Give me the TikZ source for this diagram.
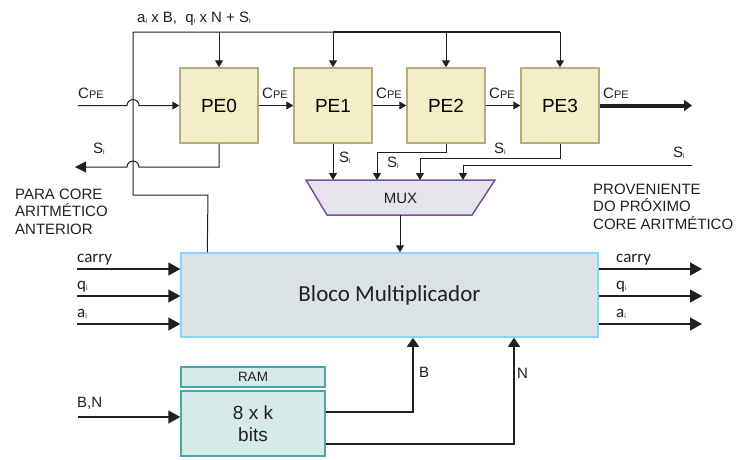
\documentclass[tikz,border=0pt]{standalone}
\usepackage{fontspec}
\setmainfont{Liberation Sans}
\newfontfamily\calfont{Carlito}
\usetikzlibrary{arrows.meta,calc}
\definecolor{pefill}{HTML}{F4EEC8}
\definecolor{peedge}{HTML}{B3AE7E}
\definecolor{muxfill}{HTML}{E5E4EA}
\definecolor{muxedge}{HTML}{7D4FA3}
\definecolor{blocofill}{HTML}{DCE3E7}
\definecolor{blocoedge}{HTML}{8DD3F2}
\definecolor{ramfill}{HTML}{D6EAE7}
\definecolor{ramedge}{HTML}{4CA6AE}
\definecolor{wirecol}{HTML}{231F20}
\newcommand\sbi[1]{\raisebox{-1.5pt}{\fontsize{7}{7}\selectfont #1}}
\newcommand\cpe{C{\fontsize{11}{11}\selectfont PE}}
\newcommand\si{S\sbi{i}}
\tikzset{
  pebox/.style={draw=peedge, fill=pefill, line width=1.5pt, minimum width=78pt, minimum height=75pt, inner sep=0pt, font=\fontsize{19}{19}\selectfont},
  wire/.style={draw=wirecol, line width=1pt},
  arr/.style={wire, -{Triangle[length=7pt,width=8pt]}},
  bigarr/.style={draw=wirecol, line width=1.5pt, -{Triangle[length=12pt,width=13pt]}},
  lbl/.style={font=\fontsize{15}{15}\selectfont, inner sep=0pt, text=wirecol},
  clbl/.style={font=\calfont\fontsize{17}{17}\selectfont, inner sep=0pt, text=wirecol},
}
\begin{document}
\begin{tikzpicture}[x=1pt,y=-1pt]
\useasboundingbox (0,0) rectangle (739,459);
% PE boxes
\node[pebox] (PE0) at (219,105.5) {PE0};
\node[pebox] (PE1) at (333,105.5) {PE1};
\node[pebox] (PE2) at (446,105.5) {PE2};
\node[pebox] (PE3) at (560,105.5) {PE3};
% Bloco
\node[draw=blocoedge, fill=blocofill, line width=1.5pt, minimum width=417pt, minimum height=84pt, inner sep=0pt,
      font=\calfont\fontsize{23}{23}\selectfont, text=wirecol] (bloco) at (389.5,295) {Bloco Multiplicador};
% MUX
\coordinate (mtl) at (306,180); \coordinate (mtr) at (495,180);
\coordinate (mbr) at (472,215); \coordinate (mbl) at (327,215);
\draw[draw=muxedge, fill=muxfill, line width=1.5pt] (mtl) -- (mtr) -- (mbr) -- (mbl) -- cycle;
\node[lbl, font=\fontsize{15}{15}\selectfont] (mux) at (400.5,198) {MUX};
% RAM
\node[draw=ramedge, fill=ramfill, line width=1.5pt, minimum width=144pt, minimum height=20pt, inner sep=0pt,
      font=\fontsize{13.5}{13.5}\selectfont, text=wirecol] (ramh) at (253,377) {RAM};
\node[draw=ramedge, fill=ramfill, line width=1.5pt, minimum width=144pt, minimum height=65pt, inner sep=0pt,
      align=center, font=\fontsize{19}{22}\selectfont, text=wirecol] (ramb) at (253,423.5) {8 x k\\bits};
% top bus
\coordinate (b1) at (208,195); \coordinate (b2) at (133,195);
\coordinate (b3) at (133,32); \coordinate (b4) at (560,32);
\draw[wire] ([xshift=27pt]bloco.north west) -- (b1) -- (b2) -- (b3) -- (b4);
\draw[wire, line width=1.6pt] (PE1.north |- b3) -- (b4);
\foreach \p in {PE0,PE1,PE2,PE3} \draw[arr] (\p.north |- b3) -- (\p.north);
\node[lbl, anchor=base west] (toplbl) at (137,22) {a\sbi{i} x B,\ \ q\sbi{i} x N + S\sbi{i}};
% C_PE chain
\coordinate (cin) at (78,105.5);
\draw[arr] (cin) -- (127,105.5) arc[start angle=180,end angle=360,radius=6] -- (PE0.west);
\draw[arr] (PE0.east) -- (PE1.west);
\draw[arr] (PE1.east) -- (PE2.west);
\draw[arr] (PE2.east) -- (PE3.west);
\coordinate (cout) at (692,105.5);
\draw[draw=wirecol, line width=4pt, -{Triangle[length=8pt,width=11pt]}] (PE3.east) -- (cout);
\node[lbl, anchor=base west] (c0) at (78,98) {\cpe};
\node[lbl, anchor=base west] (c1) at (262,98) {\cpe};
\node[lbl, anchor=base west] (c2) at (376,98) {\cpe};
\node[lbl, anchor=base west] (c3) at (489,98) {\cpe};
\node[lbl, anchor=base west] (c4) at (603,98) {\cpe};
% S_i from PE0 to previous core
\coordinate (sout) at (75,167);
\draw[wire, -{Triangle[length=11pt,width=11pt]}] (PE0.south) |- (139,167) arc[start angle=360,end angle=180,radius=6] -- (sout);
\node[lbl, anchor=base west] (s0) at (93,153) {\si};
% S_i into MUX
\coordinate (m1) at (333,180); \coordinate (m2) at (377,180);
\coordinate (m3) at (420,180); \coordinate (m4) at (463,180);
\draw[arr] (PE1.south) -- (m1);
\draw[arr] (PE2.south) -- (446,152) -| (m2);
\draw[arr] (PE3.south) -- (560,158) -| (m3);
\coordinate (sin) at (692,165);
\draw[arr] (sin) -| (m4);
\node[lbl, anchor=base west] (s1) at (339,162) {\si};
\node[lbl, anchor=base west] (s2) at (387,167) {\si};
\node[lbl, anchor=base west] (s3) at (494,153) {\si};
\node[lbl, anchor=base west] (s4) at (673,157) {\si};
% MUX to bloco
\coordinate (mo) at (400,215);
\draw[arr] (mo) -- (bloco.north -| mo);
% side texts
\node[lbl, anchor=north west, align=left, font=\fontsize{15}{17.5}\selectfont] (para) at (15,188.5) {PARA CORE\\ARITMÉTICO\\ANTERIOR};
\node[lbl, anchor=north west, align=left, font=\fontsize{15}{17.5}\selectfont] (prov) at (593,183.5) {PROVENIENTE\\DO PRÓXIMO\\CORE ARITMÉTICO};
% bloco inputs / outputs
\coordinate (i1) at (77,269); \coordinate (i2) at (77,296); \coordinate (i3) at (77,324);
\coordinate (o1) at (702,269); \coordinate (o2) at (702,296); \coordinate (o3) at (702,324);
\draw[bigarr] (i1) -- (bloco.west |- i1);
\draw[bigarr] (i2) -- (bloco.west |- i2);
\draw[bigarr] (i3) -- (bloco.west |- i3);
\draw[bigarr] (bloco.east |- o1) -- (o1);
\draw[bigarr] (bloco.east |- o2) -- (o2);
\draw[bigarr] (bloco.east |- o3) -- (o3);
\node[clbl, anchor=base west] (l1) at (77,262) {carry};
\node[clbl, anchor=base west] (l2) at (77,289) {q\sbi{i}};
\node[clbl, anchor=base west] (l3) at (77,317) {a\sbi{i}};
\node[clbl, anchor=base west] (r1) at (616,262) {carry};
\node[clbl, anchor=base west] (r2) at (616,289) {q\sbi{i}};
\node[clbl, anchor=base west] (r3) at (616,317) {a\sbi{i}};
% RAM in/out
\coordinate (bn) at (78,417);
\draw[bigarr] (bn) -- (ramb.west |- bn);
\node[lbl, anchor=base west] (bnl) at (77,407) {B,N};
\coordinate (bo) at (413,412); \coordinate (no) at (514,444);
\draw[draw=wirecol, line width=1.3pt, -{Triangle[length=9pt,width=12pt]}] (ramb.east |- bo) -- (bo) -- (bloco.south -| bo);
\draw[draw=wirecol, line width=1.3pt, -{Triangle[length=9pt,width=12pt]}] (ramb.east |- no) -- (no) -- (bloco.south -| no);
\node[lbl, anchor=base west] (bl) at (419,377) {B};
\node[lbl, anchor=base west] (nl) at (517,378) {N};
\end{tikzpicture}
\end{document}
